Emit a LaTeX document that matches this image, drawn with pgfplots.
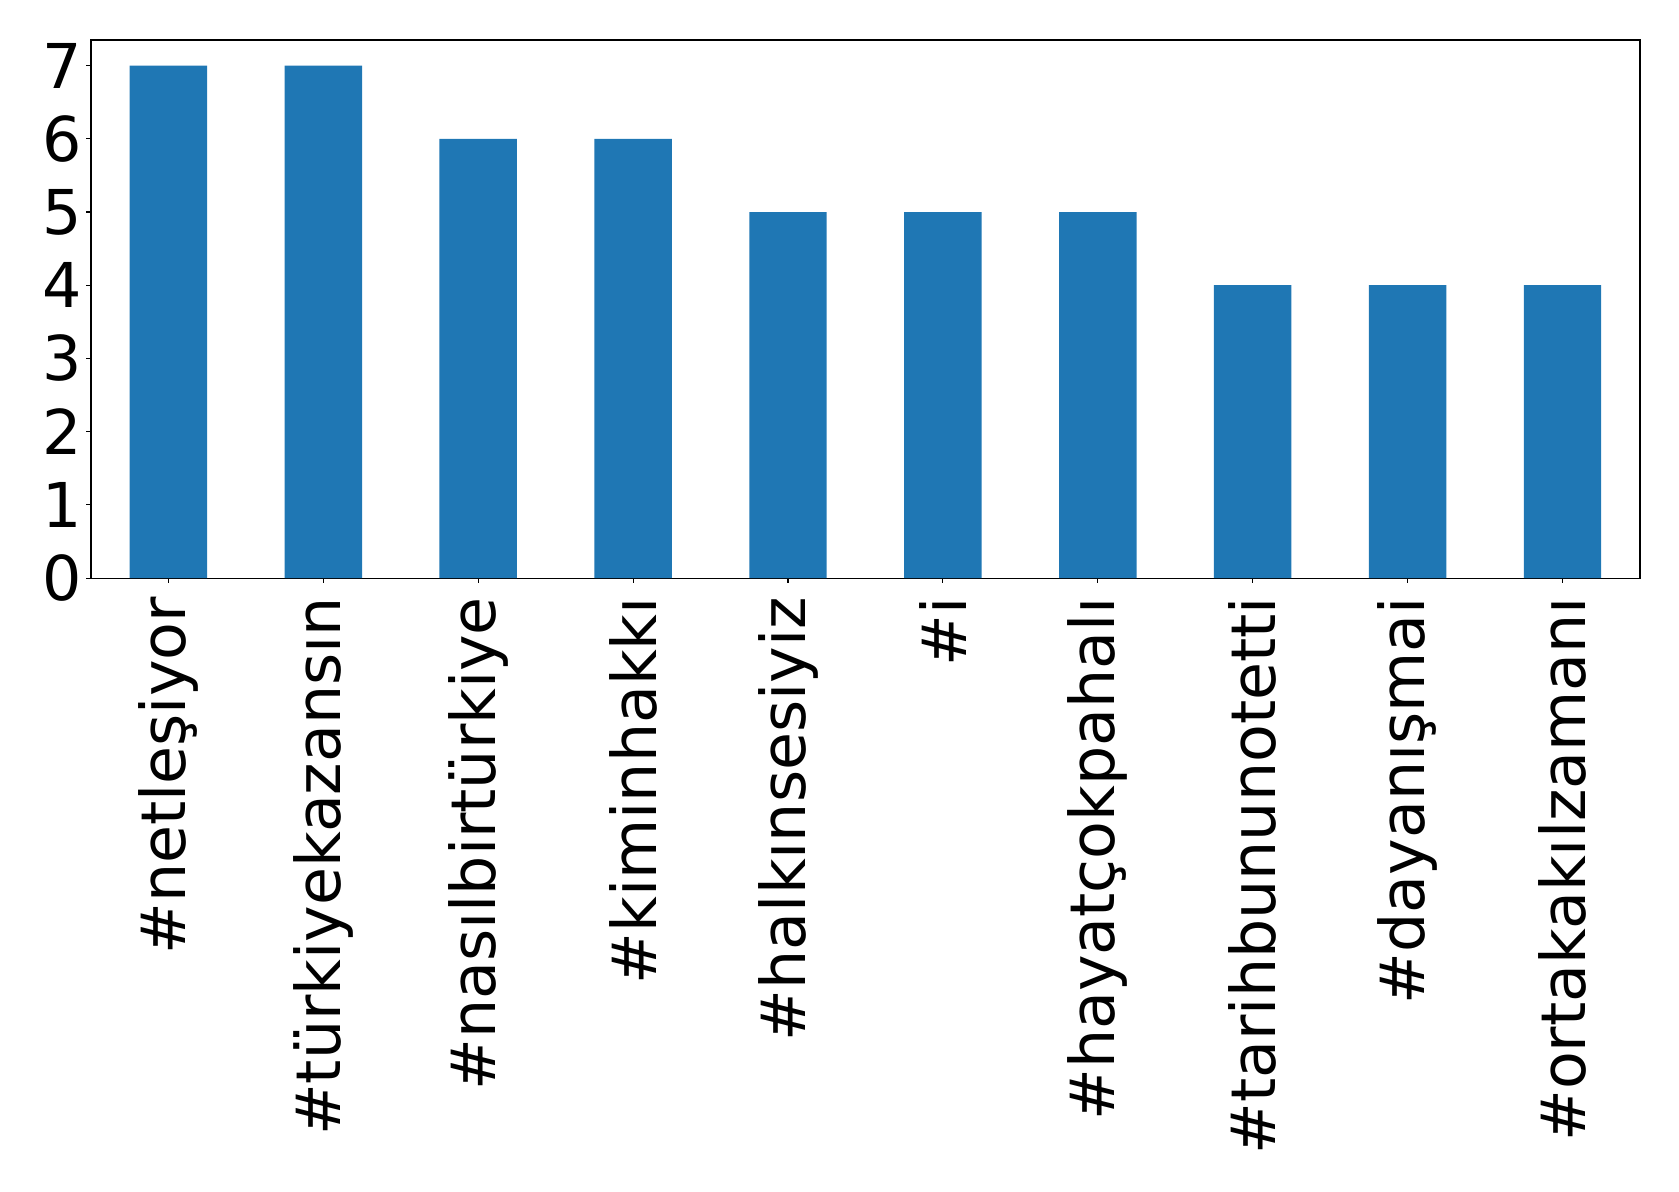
\documentclass[border=0pt]{standalone}
\usepackage{pgfplots}
\pgfplotsset{compat=1.18}
\usepackage{fontspec}
\setmainfont{DejaVu Sans}
\definecolor{tabblue}{HTML}{1F77B4}
\begin{document}
\begin{tikzpicture}
\useasboundingbox (-65.5pt,-441.4pt) rectangle (1143.4pt,416.2pt);
\begin{axis}[
  at={(0pt,0pt)}, anchor=south west,
  scale only axis,
  width=1115.3pt, height=387.4pt,
  xmin=-0.5, xmax=9.5, ymin=0, ymax=7.35,
  xtick={0,...,9},
  xticklabels={\#netleşiyor,\#türkiyekazansın,\#nasılbirtürkiye,\#kiminhakkı,\#halkınsesiyiz,\#i,\#hayatçokpahalı,\#tarihbununotetti,\#dayanışmai,\#ortakakılzamanı},
  ytick={0,...,7},
  tick align=outside,
  major tick length=3.5pt,
  every tick/.style={black, line width=0.8pt},
  axis line style={line width=0.8pt},
  tick label style={font=\fontsize{44.5}{53}\selectfont},
  /pgf/number format/assume math mode=true,
  xticklabel style={rotate=90, anchor=east, inner sep=10pt},
  yticklabel style={inner sep=3pt},
  xtick pos=bottom, ytick pos=left,
]
\addplot[ybar, bar width=0.5, fill=tabblue, draw=none] coordinates {
(0,7) (1,7) (2,6) (3,6) (4,5) (5,5) (6,5) (7,4) (8,4) (9,4)
};
\end{axis}
\end{tikzpicture}
\end{document}
